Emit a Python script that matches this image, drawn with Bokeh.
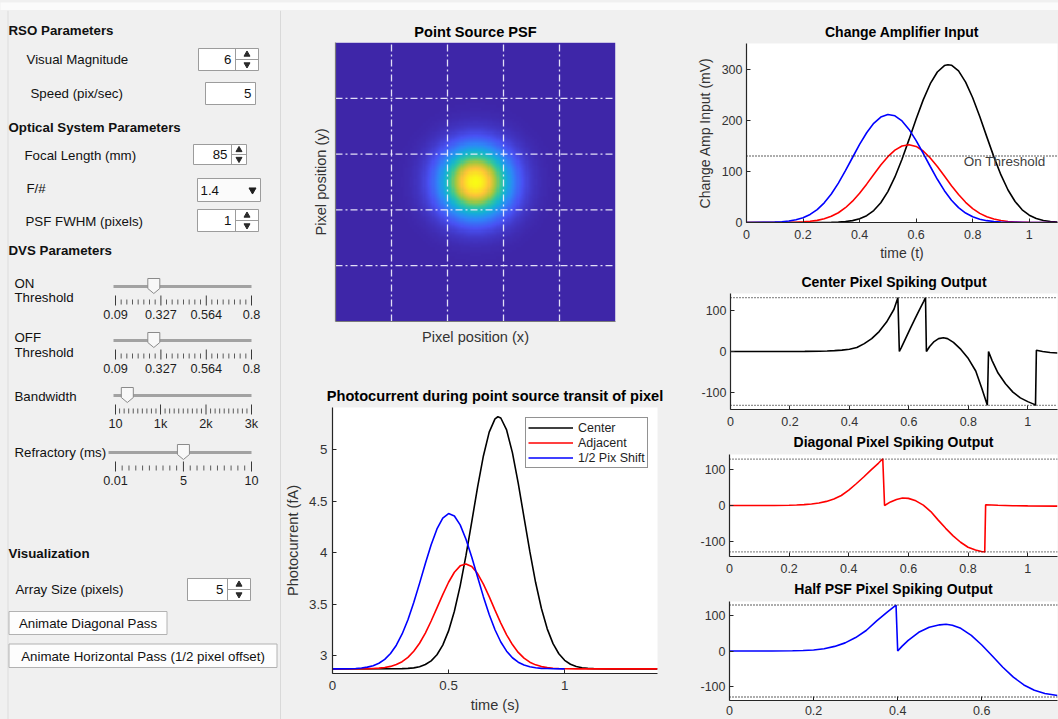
import numpy as np
from bokeh.plotting import figure
from bokeh.layouts import column, row
from bokeh.models import (Range1d, FixedTicker, Legend, LegendItem, Span, Label,
                          CustomJSTickFormatter)
from bokeh.core.properties import value
from bokeh.embed import file_html
from bokeh.resources import INLINE

# ------------------------------------------------------------------ settings
visual_magnitude = "6"
speed_pix_per_sec = "5"
focal_length_mm = "85"
f_number = "1.4"
psf_fwhm_pixels = 1
array_size_pixels = 5

on_threshold = 0.29
off_threshold = 0.29
threshold_ticks = [0.09, 0.327, 0.564, 0.8]
threshold_tick_labels = ["0.09", "0.327", "0.564", "0.8"]
bandwidth_hz = 270
bandwidth_ticks = [10, 1000, 2000, 3000]
bandwidth_tick_labels = ["10", "1k", "2k", "3k"]
refractory_ms = 5
refractory_ticks = [0.01, 5, 10]
refractory_tick_labels = ["0.01", "5", "10"]

on_threshold_mv = 130
off_threshold_mv = -130

# ------------------------------------------------- photocurrent (fA) vs time
pc_center_t = [0.0, 0.300, 0.325, 0.350, 0.375, 0.400, 0.425, 0.450, 0.475, 0.500,
               0.525, 0.550, 0.575, 0.600, 0.625, 0.650, 0.675, 0.700, 0.7125, 0.725,
               0.750, 0.775, 0.800, 0.825, 0.850, 0.875, 0.900, 0.925, 0.950, 0.975,
               1.000, 1.025, 1.050, 1.075, 1.100, 1.125, 1.200, 1.400]
pc_center = [2.870, 2.872, 2.875, 2.880, 2.891, 2.912, 2.948, 3.007, 3.101, 3.239,
             3.430, 3.677, 3.972, 4.302, 4.636, 4.939, 5.171, 5.300, 5.320, 5.308,
             5.192, 4.971, 4.675, 4.343, 4.011, 3.709, 3.457, 3.259, 3.115, 3.017,
             2.953, 2.915, 2.893, 2.881, 2.875, 2.872, 2.870, 2.870]

pc_adjacent_t = [0.0, 0.150, 0.175, 0.200, 0.225, 0.250, 0.275, 0.300, 0.325, 0.350,
                 0.375, 0.400, 0.425, 0.450, 0.475, 0.500, 0.525, 0.550, 0.575, 0.600,
                 0.625, 0.650, 0.675, 0.700, 0.725, 0.750, 0.775, 0.800, 0.825, 0.850,
                 0.875, 0.900, 0.925, 0.950, 0.975, 1.000, 1.050, 1.400]
pc_adjacent = [2.870, 2.872, 2.873, 2.877, 2.883, 2.894, 2.912, 2.940, 2.982, 3.041,
               3.119, 3.218, 3.335, 3.463, 3.592, 3.712, 3.809, 3.871, 3.890, 3.864,
               3.796, 3.694, 3.572, 3.441, 3.315, 3.201, 3.106, 3.030, 2.974, 2.935,
               2.909, 2.892, 2.882, 2.876, 2.873, 2.871, 2.870, 2.870]

pc_half_t = [0.0, 0.075, 0.100, 0.125, 0.150, 0.175, 0.200, 0.225, 0.250, 0.275,
             0.300, 0.325, 0.350, 0.375, 0.400, 0.425, 0.450, 0.475, 0.500, 0.525,
             0.550, 0.575, 0.600, 0.625, 0.650, 0.675, 0.700, 0.725, 0.750, 0.775,
             0.800, 0.825, 0.850, 0.875, 0.900, 0.925, 0.950, 1.000]
pc_half = [2.870, 2.871, 2.874, 2.879, 2.887, 2.901, 2.925, 2.962, 3.019, 3.100,
           3.209, 3.348, 3.514, 3.701, 3.894, 4.077, 4.230, 4.335, 4.379, 4.356,
           4.269, 4.130, 3.954, 3.763, 3.572, 3.399, 3.250, 3.131, 3.042, 2.978,
           2.935, 2.907, 2.891, 2.881, 2.875, 2.873, 2.871, 2.870]

# ------------------------------------------ change amplifier input (mV) vs time
amp_center_t = [0.0, 0.300, 0.325, 0.350, 0.375, 0.400, 0.425, 0.450, 0.475, 0.500,
                0.525, 0.550, 0.575, 0.600, 0.625, 0.650, 0.675, 0.700, 0.7125, 0.725,
                0.750, 0.775, 0.800, 0.825, 0.850, 0.875, 0.900, 0.925, 0.950, 0.975,
                1.000, 1.025, 1.050, 1.075, 1.100]
amp_center = [0.0, 0.35, 0.8, 1.8, 3.7, 7.2, 13.3, 23.4, 38.7, 60.5,
              89.1, 123.8, 162.5, 202.5, 239.8, 271.4, 294.3, 306.8, 308.6, 307.5,
              296.5, 274.6, 243.9, 207.1, 167.4, 128.3, 93.0, 63.6, 41.0, 24.9,
              14.3, 7.8, 4.0, 1.95, 0.9]

amp_adjacent_t = [0.0, 0.150, 0.175, 0.200, 0.225, 0.250, 0.275, 0.300, 0.325, 0.350,
                  0.375, 0.400, 0.425, 0.450, 0.475, 0.500, 0.525, 0.550, 0.575, 0.600,
                  0.625, 0.650, 0.675, 0.700, 0.725, 0.750, 0.775, 0.800, 0.825, 0.850,
                  0.875, 0.900, 0.925, 0.950, 0.975, 1.000, 1.100]
amp_adjacent = [0.0, 0.29, 0.6, 1.2, 2.3, 4.2, 7.3, 12.1, 19.1, 28.9,
                41.7, 57.3, 75.0, 93.9, 112.3, 128.7, 141.5, 149.6, 152.0, 148.7,
                139.8, 126.2, 109.4, 90.8, 72.0, 54.6, 39.5, 27.2, 17.8, 11.2,
                6.7, 3.8, 2.1, 1.1, 0.5, 0.25, 0.0]

amp_half_t = [0.0, 0.075, 0.100, 0.125, 0.150, 0.175, 0.200, 0.225, 0.250, 0.275,
              0.300, 0.325, 0.350, 0.375, 0.400, 0.425, 0.450, 0.475, 0.500, 0.525,
              0.550, 0.575, 0.600, 0.625, 0.650, 0.675, 0.700, 0.725, 0.750, 0.775,
              0.800, 0.825, 0.850, 0.875, 0.900, 0.925, 0.950, 1.000, 1.100]
amp_half = [0.0, 0.3, 0.75, 1.5, 2.9, 5.4, 9.4, 15.8, 25.3, 38.5,
            55.8, 77.0, 101.3, 127.1, 152.6, 175.5, 193.9, 206.2, 211.3, 208.6,
            198.6, 182.0, 160.2, 135.4, 109.5, 84.5, 62.2, 43.6, 29.1, 18.5,
            11.2, 6.5, 3.6, 1.9, 0.95, 0.45, 0.2, 0.0, 0.0]

# ------------------------------------------------------ spiking outputs (mV)
spk_center_t = [0.0, 0.25, 0.30, 0.325, 0.35, 0.375, 0.40, 0.425, 0.45, 0.475,
                0.50, 0.525, 0.55, 0.563, 0.568, 0.575, 0.59, 0.605, 0.62, 0.635,
                0.65, 0.656, 0.659, 0.67, 0.685, 0.70, 0.716, 0.73, 0.75, 0.775,
                0.80, 0.825, 0.845, 0.864, 0.868, 0.88, 0.90, 0.925, 0.95, 0.975,
                1.0, 1.02, 1.026, 1.029, 1.05, 1.075, 1.1]
spk_center = [0, 0.2, 0.6, 1.2, 2.0, 3.3, 5.5, 9.5, 19, 31,
              48, 71, 102, 130, 0, 10, 33, 56, 78, 100,
              121, 130, 0, 12, 24, 31, 33, 31, 22, 5,
              -17, -47, -88, -130, 0, -22, -52, -78, -98, -112,
              -121, -127, -130, 3, 0, -2.5, -3.5]

spk_diag_t = [0.0, 0.15, 0.2, 0.225, 0.25, 0.275, 0.3, 0.325, 0.35, 0.375,
              0.4, 0.425, 0.45, 0.475, 0.5, 0.514, 0.52, 0.54, 0.56, 0.58,
              0.6, 0.625, 0.65, 0.675, 0.7, 0.725, 0.75, 0.775, 0.8, 0.825,
              0.845, 0.856, 0.859, 0.9, 0.95, 1.0, 1.1]
spk_diag = [0, 0.2, 0.8, 1.5, 2.5, 4.2, 7, 11.5, 18, 28,
            43, 61, 80, 100, 119, 131, 0, 10, 17, 21,
            20, 13, 1, -17, -41, -64, -85, -103, -117, -125,
            -129, -130, 2, 0.5, -0.5, -1, -1.8]

spk_half_t = [0.0, 0.1, 0.15, 0.175, 0.2, 0.225, 0.25, 0.275, 0.3, 0.325,
              0.35, 0.375, 0.396, 0.4, 0.41, 0.425, 0.45, 0.475, 0.5, 0.515,
              0.53, 0.55, 0.575, 0.6, 0.625, 0.65, 0.675, 0.7, 0.725, 0.75, 0.78]
spk_half = [0, 0.1, 0.6, 1.5, 3, 6.5, 13, 23, 38, 58,
            85, 110, 130, 0, 13, 30, 53, 67, 74, 75.5,
            73, 64, 44, 17, -14, -46, -74, -96, -111, -120, -126]

# ------------------------------------------------------------------- styling
FONT = "Liberation Sans"
APP_BG = "#f0f0f0"
AXIS = "#262626"
TEXT_GRAY = "#333333"
UI_TEXT = "#111111"
BOX_EDGE = "#9c9c9c"
CURVE_W = 1.6
BG_STYLE = {"background-color": APP_BG}

# parula anchor colours, blended into a 256-step palette
_anchors = np.array([[62, 38, 168], [72, 82, 244], [46, 135, 247], [18, 177, 214],
                     [55, 200, 151], [171, 199, 57], [254, 195, 56], [249, 251, 21]], float)
_pos = np.linspace(0, 1, len(_anchors))
_s = np.linspace(0, 1, 256)
PARULA = ["#%02x%02x%02x" % tuple(int(round(np.interp(v, _pos, _anchors[:, k]))) for k in range(3))
          for v in _s]


def canvas(width, height, y_top, y_bottom, fill):
    c = figure(width=width, height=height, x_range=Range1d(0, width),
               y_range=Range1d(y_bottom, y_top), x_axis_type=None, y_axis_type=None,
               output_backend="svg", toolbar_location=None, min_border=0, title=None,
               frame_align=False)
    c.grid.visible = False
    c.outline_line_color = None
    c.background_fill_color = fill
    c.border_fill_color = fill
    return c


def axes_figure(width, height, left, right, top, bottom, xr, yr, title):
    p = figure(width=width, height=height, x_range=Range1d(*xr), y_range=Range1d(*yr),
               output_backend="svg", toolbar_location=None, title=title,
               min_border_left=left, min_border_right=right,
               min_border_top=top, min_border_bottom=bottom, frame_align=False)
    p.background_fill_color = "white"
    p.border_fill_color = APP_BG
    p.outline_line_color = None
    p.grid.visible = False
    return p


def style_axes(p, tick_px, label_px):
    for ax in p.axis:
        ax.axis_line_color = AXIS
        ax.axis_line_width = 1.2
        ax.major_tick_line_color = AXIS
        ax.major_tick_in = 4
        ax.major_tick_out = 0
        ax.minor_tick_line_color = None
        ax.major_label_text_font = FONT
        ax.major_label_text_font_size = tick_px
        ax.major_label_text_color = TEXT_GRAY
        ax.axis_label_text_font = FONT
        ax.axis_label_text_font_size = label_px
        ax.axis_label_text_font_style = "normal"
        ax.axis_label_text_color = TEXT_GRAY
        ax.formatter = CustomJSTickFormatter(code="return tick.toString();")
    p.xaxis.major_label_standoff = 7
    p.yaxis.major_label_standoff = 4


def style_title(p, px, standoff):
    p.title.text_font = FONT
    p.title.text_font_size = px
    p.title.text_font_style = "bold"
    p.title.text_color = "#000000"
    p.title.align = "center"
    p.title.standoff = standoff


def put_text(c, xs, ys, texts, size="13.3px", bold=False, align="left", color=UI_TEXT):
    c.text(x=xs, y=ys, text=texts, text_font=value(FONT), text_font_size=size,
           text_font_style="bold" if bold else "normal", text_align=align,
           text_baseline="middle", text_color=color)


# ---------------------------------------------------------------- top strip
strip = canvas(1058, 10, 0, 10, "#fbfbfb")
strip.segment(x0=[0], y0=[9.5], x1=[1058], y1=[9.5], line_color="#d2d2d2", line_width=1)

# ------------------------------------------------------------ control panel
panel = canvas(281, 709, 10, 719, APP_BG)
panel.segment(x0=[7.5, 280.5], y0=[10, 10], x1=[7.5, 280.5], y1=[719, 719],
              line_color=["#dcdcdc", "#c2c2c2"], line_width=1)

put_text(panel, [8, 8, 8, 8], [30, 127, 250, 553],
         ["RSO Parameters", "Optical System Parameters", "DVS Parameters", "Visualization"],
         bold=True)
put_text(panel,
         [26, 30, 24, 26, 25, 14, 14, 14, 14, 14, 14, 15],
         [59, 93, 155, 188, 221, 283, 297, 337, 352, 396, 452, 589],
         ["Visual Magnitude", "Speed (pix/sec)", "Focal Length (mm)", "F/#",
          "PSF FWHM (pixels)", "ON", "Threshold", "OFF", "Threshold", "Bandwidth",
          "Refractory (ms)", "Array Size (pixels)"])


def spinner(c, text, x0, xd, x1, y0, y1):
    ym = (y0 + y1) / 2
    c.quad(left=[x0], right=[x1], top=[y0], bottom=[y1], fill_color="white",
           line_color=BOX_EDGE, line_width=1)
    c.segment(x0=[xd, xd], y0=[y0, ym], x1=[xd, x1], y1=[y1, ym], line_color=BOX_EDGE)
    xm = (xd + x1) / 2
    h = y1 - y0
    c.scatter(x=[xm], y=[y0 + h * 0.27], marker="triangle", size=6, color="#2a2a2a")
    c.scatter(x=[xm], y=[y1 - h * 0.27], marker="inverted_triangle", size=6, color="#2a2a2a")
    put_text(c, [xd - 4], [ym], [text], align="right")


spinner(panel, visual_magnitude, 198, 235, 258, 48, 70)
spinner(panel, focal_length_mm, 193, 231, 246, 144, 164)
spinner(panel, str(psf_fwhm_pixels), 197, 235, 258, 209, 231)
spinner(panel, str(array_size_pixels), 187, 227, 250, 578, 600)

# edit field
panel.quad(left=[205], right=[255], top=[82], bottom=[104], fill_color="white",
           line_color=BOX_EDGE)
put_text(panel, [251], [93], [speed_pix_per_sec], align="right")

# drop-down
panel.quad(left=[197], right=[260], top=[178], bottom=[201], fill_color="#fbfbfb",
           line_color=BOX_EDGE)
put_text(panel, [200], [189.5], [f_number])
panel.scatter(x=[252], y=[189.5], marker="inverted_triangle", size=7, color="#1e1e1e")

# buttons
panel.quad(left=[8.5, 8.5], right=[166.5, 276.5], top=[611, 643.5], bottom=[634, 667],
           fill_color="#fdfdfd", line_color="#b2b2b2")
put_text(panel, [87.5, 142.5], [622.5, 655.5],
         ["Animate Diagonal Pass", "Animate Horizontal Pass (1/2 pixel offset)"],
         align="center")


def slider(c, vmin, vmax, val, majors, major_labels, minors, track_y, track_x0,
           x0=115, x1=251):
    def sx(v):
        return x0 + (v - vmin) / (vmax - vmin) * (x1 - x0)
    c.segment(x0=[track_x0], y0=[track_y], x1=[x1], y1=[track_y],
              line_color="#a2a2a2", line_width=3)
    mx = [sx(v) for v in majors]
    c.segment(x0=mx, y0=[track_y + 9] * len(mx), x1=mx, y1=[track_y + 19] * len(mx),
              line_color="#3a3a3a", line_width=1)
    nx = [sx(v) for v in minors]
    c.segment(x0=nx, y0=[track_y + 13] * len(nx), x1=nx, y1=[track_y + 18] * len(nx),
              line_color="#5a5a5a", line_width=1)
    put_text(c, mx, [track_y + 28] * len(mx), major_labels, size="12.7px", align="center",
             color="#1e1e1e")
    tx = sx(val)
    c.patch(x=[tx - 6, tx + 6, tx + 6, tx, tx - 6],
            y=[track_y - 8, track_y - 8, track_y + 2, track_y + 7, track_y + 2],
            fill_color="#f8f8f8", line_color="#8a8a8a", line_width=1)


thr_step = (threshold_ticks[-1] - threshold_ticks[0]) / 24
thr_minor = [threshold_ticks[0] + k * thr_step for k in range(1, 24) if k % 8]
bw_minor = [v for v in range(100, 3000, 100) if v % 1000]
ref_minor = [v / 2 for v in range(1, 20) if v != 10]

slider(panel, 0.09, 0.8, on_threshold, threshold_ticks, threshold_tick_labels,
       thr_minor, 286, 113)
slider(panel, 0.09, 0.8, off_threshold, threshold_ticks, threshold_tick_labels,
       thr_minor, 340, 113)
slider(panel, 10, 3000, bandwidth_hz, bandwidth_ticks, bandwidth_tick_labels,
       bw_minor, 395, 113)
slider(panel, 0.01, 10, refractory_ms, refractory_ticks, refractory_tick_labels,
       ref_minor, 452, 108)

# ------------------------------------------------------------ point source PSF
psf_fig = axes_figure(399, 340, 54, 65, 32, 29, (0, array_size_pixels),
                      (0, array_size_pixels), "Point Source PSF")
n = 125
coords = (np.arange(n) + 0.5) / n * array_size_pixels
gx, gy = np.meshgrid(coords, coords)
sigma = psf_fwhm_pixels / (2 * np.sqrt(2 * np.log(2)))
centre = array_size_pixels / 2
psf = np.exp(-((gx - centre) ** 2 + (gy - centre) ** 2) / (2 * sigma ** 2))
psf_fig.image(image=[psf], x=0, y=0, dw=array_size_pixels, dh=array_size_pixels,
              palette=PARULA)
pixel_edges = list(range(1, array_size_pixels))
psf_fig.segment(x0=pixel_edges, y0=[0] * len(pixel_edges), x1=pixel_edges,
                y1=[array_size_pixels] * len(pixel_edges), line_color="#f4f4ff",
                line_alpha=0.9, line_width=1.3, line_dash="7 3 2 3")
psf_fig.segment(x0=[0] * len(pixel_edges), y0=pixel_edges,
                x1=[array_size_pixels] * len(pixel_edges), y1=pixel_edges,
                line_color="#f4f4ff", line_alpha=0.9, line_width=1.3, line_dash="7 3 2 3")
style_axes(psf_fig, "13px", "14.6px")
style_title(psf_fig, "14.6px", 5)
for ax in psf_fig.axis:
    ax.ticker = FixedTicker(ticks=[])
    ax.major_label_standoff = 0
    ax.axis_label_standoff = 7
    ax.axis_line_color = "#7a7a7a"
psf_fig.xaxis.axis_label = "Pixel position (x)"
psf_fig.yaxis.axis_label = "Pixel position (y)"

# --------------------------------------------------------------- photocurrent
photo = axes_figure(399, 369, 51, 23, 57, 46, (0, 1.4), (2.825, 5.41),
                    "Photocurrent during point source transit of pixel")
r_c = photo.line(pc_center_t, pc_center, line_color="black", line_width=CURVE_W)
r_a = photo.line(pc_adjacent_t, pc_adjacent, line_color="red", line_width=CURVE_W)
r_h = photo.line(pc_half_t, pc_half, line_color="blue", line_width=CURVE_W)
style_axes(photo, "13.3px", "14.6px")
style_title(photo, "14.6px", 8)
photo.xaxis.ticker = FixedTicker(ticks=[0, 0.5, 1])
photo.yaxis.ticker = FixedTicker(ticks=[3, 3.5, 4, 4.5, 5])
photo.xaxis.axis_label = "time (s)"
photo.yaxis.axis_label = "Photocurrent (fA)"
photo.xaxis.axis_label_standoff = 4
photo.yaxis.axis_label_standoff = 5
photo.yaxis.major_label_standoff = 5
legend = Legend(items=[LegendItem(label="Center", renderers=[r_c]),
                       LegendItem(label="Adjacent", renderers=[r_a]),
                       LegendItem(label="1/2 Pix Shift", renderers=[r_h])],
                location=(193, 205))
legend.margin = 0
legend.padding = 2
legend.spacing = 0
legend.glyph_width = 45
legend.glyph_height = 15
legend.label_height = 15
legend.label_standoff = 5
legend.label_text_font = FONT
legend.label_text_font_size = "12.5px"
legend.label_text_color = "#1e1e1e"
legend.border_line_color = AXIS
legend.border_line_width = 1.2
legend.background_fill_color = "white"
legend.background_fill_alpha = 1
photo.add_layout(legend)

# ---------------------------------------------------- change amplifier input
amp = axes_figure(378, 256, 66, 1, 33, 44, (0, 1.1), (0, 350), "Change Amplifier Input")
amp.add_layout(Span(location=on_threshold_mv, dimension="width", line_color=AXIS,
                    line_dash="1 2", line_width=1.4))
amp.add_layout(Label(x=1.058, y=on_threshold_mv, y_offset=2, text="On Threshold",
                     text_align="right", text_baseline="top", text_font=FONT,
                     text_font_size="13.5px", text_color="#404040"))
amp.line(amp_center_t, amp_center, line_color="black", line_width=CURVE_W)
amp.line(amp_adjacent_t, amp_adjacent, line_color="red", line_width=CURVE_W)
amp.line(amp_half_t, amp_half, line_color="blue", line_width=CURVE_W)
style_axes(amp, "12.5px", "14px")
style_title(amp, "14px", 8)
amp.xaxis.ticker = FixedTicker(ticks=[0, 0.2, 0.4, 0.6, 0.8, 1])
amp.yaxis.ticker = FixedTicker(ticks=[0, 100, 200, 300])
amp.xaxis.axis_label = "time (t)"
amp.yaxis.axis_label = "Change Amp Input (mV)"
amp.xaxis.axis_label_standoff = 3
amp.yaxis.axis_label_standoff = 6


# ----------------------------------------------------------- spiking outputs
def heading(text, y_top, y_bottom, y_text, x_centre):
    """Bold heading strip sitting directly above a spiking plot."""
    h = canvas(378, y_bottom - y_top, y_top, y_bottom, APP_BG)
    h.text(x=[x_centre], y=[y_text], text=[text], text_font=value(FONT),
           text_font_size="14px", text_font_style="bold", text_align="center",
           text_baseline="middle", text_color="#000000")
    return h


def spiking(height, left, top, bottom, xmax, ylim, xticks, t, v, colour, x_standoff):
    p = axes_figure(378, height, left, 1, top, bottom, (0, xmax), (-ylim, ylim), None)
    for lvl in (on_threshold_mv, off_threshold_mv):
        p.add_layout(Span(location=lvl, dimension="width", line_color=AXIS,
                          line_dash="1 2", line_width=1.4))
    p.line(t, v, line_color=colour, line_width=CURVE_W)
    style_axes(p, "12.5px", "14px")
    p.xaxis.ticker = FixedTicker(ticks=xticks)
    p.yaxis.ticker = FixedTicker(ticks=[-100, 0, 100])
    p.xaxis.major_label_standoff = x_standoff
    return p


ticks_11 = [0, 0.2, 0.4, 0.6, 0.8, 1]
head_c = heading("Center Pixel Spiking Output", 266, 291, 281.7, 213.5)
spk_c = spiking(139, 50, 2, 21, 1.1, 140, ticks_11, spk_center_t, spk_center, "black", 7)
head_d = heading("Diagonal Pixel Spiking Output", 430, 451, 441.3, 213)
spk_d = spiking(127, 49, 3, 22, 1.1, 143, ticks_11, spk_diag_t, spk_diag, "red", 7)
head_h = heading("Half PSF Pixel Spiking Output", 578, 597, 588, 213)
spk_h = spiking(122, 49, 4, 19, 0.78, 140, [0, 0.2, 0.4, 0.6], spk_half_t, spk_half,
                "blue", 5)

# -------------------------------------------------------------------- layout
middle = column(psf_fig, photo, styles=BG_STYLE)
right = column(amp, head_c, spk_c, head_d, spk_d, head_h, spk_h, styles=BG_STYLE)
root = column(strip, row(panel, middle, right, styles=BG_STYLE), styles=BG_STYLE)

open("out.html", "w").write(file_html(root, INLINE))
